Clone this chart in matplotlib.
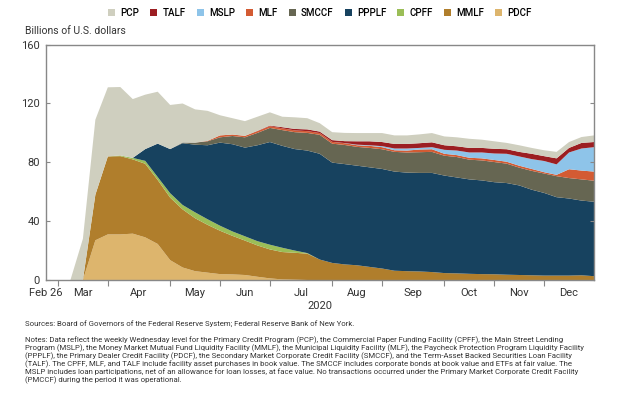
import numpy as np
import matplotlib
matplotlib.use("Agg")
import matplotlib.pyplot as plt

plt.rcParams['font.family'] = ['Roboto', 'DejaVu Sans']

# ==============================
# Weekly Wednesday levels, Feb 26 - Dec 30 2020 (billions of USD)
# ==============================
pdcf = [0, 0, 0, 0, 27, 31, 31, 31.5, 29, 24.5, 13.5, 8.5, 6, 5, 4, 3.8, 3.4, 2.2, 1.1, 0.4, 0.2,
        0, 0, 0, 0, 0, 0, 0, 0, 0, 0, 0, 0, 0, 0, 0, 0, 0, 0, 0, 0, 0, 0, 0, 0]
mmlf = [0, 0, 0, 0, 31, 53, 53.2, 50.5, 50, 43.5, 42.5, 39.5, 36, 32.5, 29.5, 26.2, 23.4, 21.3, 19.7, 18.6,
        18.3, 17.9, 13.9, 11.6, 10.6, 10, 8.9, 7.8, 6.3, 6, 5.8, 5.4, 4.7, 4.5, 4.2, 4, 3.9, 3.6, 3.4, 3.2,
        3, 3, 3, 3.2, 2.6]
cpff = [0, 0, 0, 0, 0, 0, 0.5, 1, 2, 2, 3, 3, 4, 3.8, 3.4, 3, 2.9, 2.9, 3.2, 2.9, 1.5, 0.4,
        0, 0, 0, 0, 0, 0, 0, 0, 0, 0, 0, 0, 0, 0, 0, 0, 0, 0, 0, 0, 0, 0, 0]
ppplf = [0, 0, 0, 0, 0, 0, 0, 0, 8, 22.7, 30, 42, 46, 50.3, 56.5, 59.3, 60.3, 65.2, 69.8, 69.3,
         69, 69.7, 71.9, 68.2, 68.2, 67.7, 67.7, 67.7, 67.4, 67, 67, 67.4, 66.3, 65.2, 64.2, 63.7,
         62.6, 62.3, 60.9, 58.2, 56.2, 53.3, 52.4, 50.8, 50.6]
smccf = [0, 0, 0, 0, 0, 0, 0, 0, 0, 0, 0, 0.5, 1.4, 2.7, 3.6, 5.6, 7, 8.4, 9.6, 10.7, 11.5, 12,
         12.9, 12.9, 13, 12.8, 13.2, 13.4, 13.4, 13.7, 14.1, 14.3, 13.5, 13.9, 13.4, 13.6, 13.7,
         13.2, 12.1, 12.8, 13.2, 14.3, 13.9, 14.4, 14.3]
mlf = [0, 0, 0, 0, 0, 0, 0, 0, 0, 0, 0, 0, 0, 0.3, 1.3, 1, 1, 1.2, 1.2, 1.2, 1.2, 1.2, 1.2, 1.2,
       1.2, 1.1, 1.4, 1.4, 1.1, 1.3, 1.8, 1.8, 1.3, 1.3, 1.3, 1.4, 1.4, 1.3, 1.3, 1.3, 0.9, 0.9,
       6, 6, 6.2]
mslp = [0, 0, 0, 0, 0, 0, 0, 0, 0, 0, 0, 0, 0, 0, 0, 0, 0, 0, 0, 0, 0, 0, 0, 0,
        0.1, 0.4, 0.4, 0.7, 1.2, 1.4, 1.1, 1.4, 2.7, 3.1, 3.6, 4, 4.4, 5.4, 6.3, 6.7, 7.6, 7.1,
        11.4, 15, 16.6]
talf = [0, 0, 0, 0, 0, 0, 0, 0, 0, 0, 0, 0, 0, 0, 0, 0, 0, 0.2, 0.4, 0.8, 1, 1.2, 1, 1.2,
        1.3, 2.3, 2.7, 2.8, 3.1, 3.1, 3.2, 3.3, 3.1, 2.9, 3.1, 3.1, 3.2, 3.1, 3.1, 3.6, 3.3, 4.1,
        3.1, 3.8, 3.5]
pcp = [0, 0, 0, 28, 51, 47, 46.5, 40, 37, 35.3, 30, 26.5, 22.6, 20.4, 13.7, 11.1, 10, 9.6, 9,
       7.1, 7.9, 7.6, 5.7, 5.4, 5.6, 5.6, 5.6, 6.1, 5.8, 5.8, 6, 6.3, 6, 6.1, 6.2, 5.6, 5.1, 4.3,
       4.5, 4, 4, 4.4, 4, 4, 4.5]

series = [pdcf, mmlf, cpff, ppplf, smccf, mlf, mslp, talf, pcp]
names = ["PDCF", "MMLF", "CPFF", "PPPLF", "SMCCF", "MLF", "MSLP", "TALF", "PCP"]
colors = ["#DDB56D", "#B07E2C", "#9BBE57", "#17425F", "#666652",
          "#D35B33", "#8EC4E9", "#9C1E22", "#CFCFBF"]

# tick marks at first Wednesday of each month, labels centred between
tick_weeks = [1, 5, 10, 14, 18, 23, 27, 32, 36, 40]
label_weeks = [0, 3, 7.5, 12, 16, 20.5, 25, 29.5, 34, 38, 42]
month_labels = ["Feb 26", "Mar", "Apr", "May", "Jun", "Jul", "Aug", "Sep", "Oct", "Nov", "Dec"]

notes = [
    "Notes: Data reflect the weekly Wednesday level for the Primary Credit Program (PCP), the Commercial Paper Funding Facility (CPFF), the Main Street Lending",
    "Program (MSLP), the Money Market Mutual Fund Liquidity Facility (MMLF), the Municipal Liquidity Facility (MLF), the Paycheck Protection Program Liquidity Facility",
    "(PPPLF), the Primary Dealer Credit Facility (PDCF), the Secondary Market Corporate Credit Facility (SMCCF), and the Term-Asset Backed Securities Loan Facility",
    "(TALF). The CPFF, MLF, and TALF include facility asset purchases in book value. The SMCCF includes corporate bonds at book value and ETFs at fair value. The",
    "MSLP includes loan participations, net of an allowance for loan losses, at face value. No transactions occurred under the Primary Market Corporate Credit Facility",
    "(PMCCF) during the period it was operational.",
]

# ==============================
# Plot
# ==============================
fig = plt.figure(figsize=(6.4, 3.98), dpi=100)
ax = fig.add_axes([0.0711, 0.2965, 0.8570, 0.5913])

weeks = np.arange(len(pcp))
polys = ax.stackplot(weeks, *series, colors=colors, linewidth=0)

ax.set_xlim(0, 44)
ax.set_ylim(0, 160)
ax.set_yticks([0, 40, 80, 120, 160])
ax.tick_params(axis='y', direction='in', length=3, width=0.8, color='#888888',
               labelsize=8, labelcolor='#333333', right=True, pad=4)

ax.set_xticks(tick_weeks)
ax.set_xticklabels([])
ax.set_xticks(label_weeks, minor=True)
ax.set_xticklabels(month_labels, minor=True)
ax.tick_params(axis='x', which='major', direction='out', length=4, width=0.8, color='#888888')
ax.tick_params(axis='x', which='minor', length=0, labelsize=8, labelcolor='#333333', pad=6)

for s in ax.spines.values():
    s.set_color('#888888')
    s.set_linewidth(1.0)

# legend, reversed so PCP comes first
handles = polys[::-1]
fig.legend(handles, names[::-1], loc='center', bbox_to_anchor=(0.5, 0.968), ncol=9,
           frameon=False, handlelength=0.7, handleheight=0.7,
           handletextpad=0.55, columnspacing=1.15, prop={'weight': 'medium', 'size': 7})

fig.text(0.039, 0.921, "Billions of U.S. dollars", fontsize=7.5, color='#333333', va='center')
fig.text(0.5, 0.232, "2020", fontsize=8, color='#333333', ha='center', va='center')
fig.text(0.039, 0.186, "Sources: Board of Governors of the Federal Reserve System; Federal Reserve Bank of New York.",
         fontsize=5.6, color='#333333', va='center')
for k, line in enumerate(notes):
    fig.text(0.039, (398 - 340 - 8 * k) / 398, line, fontsize=5.6, color='#333333', va='center')

fig.savefig("out.png", dpi=100)
